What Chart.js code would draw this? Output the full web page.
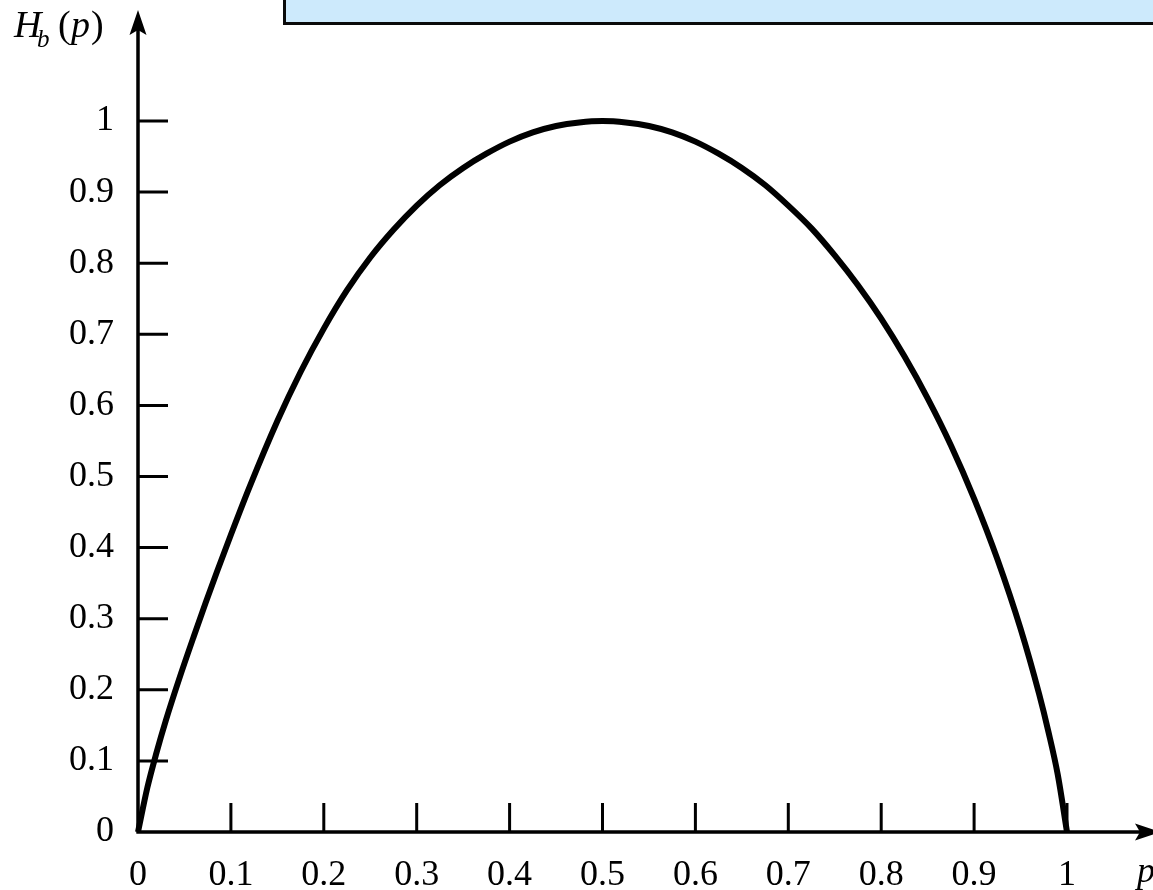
<!doctype html>
<html lang="en">
<head>
  <meta charset="utf-8">
  <title>Binary entropy</title>
  <script src="https://cdn.jsdelivr.net/npm/chart.js"></script>
  <style>
    html, body { margin: 0; padding: 0; background: #fff; }
    #wrap { width: 1153px; height: 890px; }
  </style>
</head>
<body>
<div id="wrap"><canvas id="hb-chart" width="1153" height="890"></canvas></div>

<script>
// values
var pValues  = [0, 0.01, 0.02, 0.03, 0.044, 0.06, 0.073, 0.085, 0.1, 0.12, 0.15, 0.175, 0.2, 0.225,
                0.25, 0.275, 0.3, 0.325, 0.35, 0.375, 0.4, 0.425, 0.45, 0.475, 0.5,
                0.525, 0.55, 0.575, 0.6, 0.625, 0.65, 0.675, 0.7, 0.725, 0.75, 0.775, 0.8,
                0.825, 0.85, 0.875, 0.9, 0.925, 0.95, 0.97, 0.98, 0.99, 1];
var hbValues = [0, 0.062, 0.112, 0.157, 0.214, 0.275, 0.323, 0.366, 0.418, 0.485, 0.578, 0.647, 0.708, 0.762,
                0.808, 0.847, 0.881, 0.91, 0.934, 0.954, 0.971, 0.984, 0.993, 0.998, 1.0,
                0.998, 0.993, 0.984, 0.971, 0.954, 0.934, 0.91, 0.881, 0.849, 0.811, 0.769, 0.722,
                0.669, 0.61, 0.544, 0.469, 0.384, 0.286, 0.194, 0.141, 0.081, 0];
var xTicks = [0, 0.1, 0.2, 0.3, 0.4, 0.5, 0.6, 0.7, 0.8, 0.9, 1];
var yTicks = [0, 0.1, 0.2, 0.3, 0.4, 0.5, 0.6, 0.7, 0.8, 0.9, 1];

var points = [];
for (var i = 0; i < pValues.length; i++) {
  points.push({ x: pValues[i], y: hbValues[i] });
}

var serif = "'Liberation Serif', 'DejaVu Serif', serif";

// axes with arrows, inward ticks, titles and the cut-off box on top
var axisDecor = {
  id: 'axisDecor',
  afterDraw: function(chart) {
    var ctx = chart.ctx;
    var xs = chart.scales.x, ys = chart.scales.y;
    var x0 = xs.getPixelForValue(0), y0 = ys.getPixelForValue(0);
    ctx.save();

    // blue box cut off at the top
    ctx.fillStyle = '#cdeafc';
    ctx.fillRect(283, -5, 900, 28);
    ctx.strokeStyle = '#0a0a0a';
    ctx.lineWidth = 3;
    ctx.strokeRect(284.5, -5, 900, 28.5);

    ctx.strokeStyle = '#000';
    ctx.fillStyle = '#000';
    ctx.lineWidth = 3.5;
    ctx.lineCap = 'butt';
    ctx.beginPath();
    ctx.moveTo(x0, y0 + 1.5);
    ctx.lineTo(x0, 28);
    ctx.moveTo(x0 - 1.5, y0);
    ctx.lineTo(1140, y0);
    ctx.stroke();

    // arrow heads
    ctx.beginPath();
    ctx.moveTo(x0, 10);
    ctx.lineTo(x0 - 8.5, 35);
    ctx.lineTo(x0, 30);
    ctx.lineTo(x0 + 8.5, 35);
    ctx.closePath();
    ctx.fill();
    ctx.beginPath();
    ctx.moveTo(1160, y0);
    ctx.lineTo(1135, y0 - 8.5);
    ctx.lineTo(1140, y0);
    ctx.lineTo(1135, y0 + 8.5);
    ctx.closePath();
    ctx.fill();

    // inward ticks
    ctx.lineWidth = 3;
    ctx.beginPath();
    yTicks.forEach(function(v) {
      if (v === 0) return;
      var y = ys.getPixelForValue(v);
      ctx.moveTo(x0, y);
      ctx.lineTo(x0 + 30, y);
    });
    xTicks.forEach(function(v) {
      if (v === 0) return;
      var x = xs.getPixelForValue(v);
      ctx.moveTo(x, y0);
      ctx.lineTo(x, y0 - 29);
    });
    ctx.stroke();

    // axis titles
    ctx.textBaseline = 'alphabetic';
    ctx.textAlign = 'left';
    ctx.font = 'italic 38px ' + serif;
    ctx.fillText('H', 14, 37);
    ctx.font = 'italic 25px ' + serif;
    ctx.fillText('b', 37, 47);
    ctx.font = '38px ' + serif;
    ctx.fillText('(', 58, 37);
    ctx.font = 'italic 38px ' + serif;
    ctx.fillText('p', 71, 37);
    ctx.font = '38px ' + serif;
    ctx.fillText(')', 91, 37);

    ctx.font = 'italic 36px ' + serif;
    ctx.fillText('p', 1137, 882);
    ctx.restore();
  }
};

new Chart(document.getElementById('hb-chart'), {
  type: 'line',
  data: {
    datasets: [{
      data: points,
      borderColor: '#000',
      borderWidth: 6,
      pointRadius: 0,
      fill: false,
      cubicInterpolationMode: 'monotone',
      clip: false
    }]
  },
  options: {
    responsive: false,
    animation: false,
    layout: { padding: { top: 121, right: 86, left: 0, bottom: 0 } },
    plugins: { legend: { display: false }, tooltip: { enabled: false } },
    scales: {
      x: {
        type: 'linear',
        min: 0,
        max: 1,
        afterFit: function(scale) { scale.height = 58; },
        afterBuildTicks: function(scale) {
          scale.ticks = xTicks.map(function(v) { return { value: v }; });
        },
        grid: { display: false },
        border: { display: false },
        ticks: {
          color: '#000',
          padding: 14,
          maxRotation: 0,
          autoSkip: false,
          font: { family: serif, size: 36 },
          callback: function(v) { return String(v); }
        }
      },
      y: {
        type: 'linear',
        min: 0,
        max: 1,
        afterFit: function(scale) { scale.width = 138; },
        afterBuildTicks: function(scale) {
          scale.ticks = yTicks.map(function(v) { return { value: v }; });
        },
        grid: { display: false },
        border: { display: false },
        ticks: {
          color: '#000',
          padding: 16,
          autoSkip: false,
          font: { family: serif, size: 36 },
          callback: function(v) { return String(v); }
        }
      }
    }
  },
  plugins: [axisDecor]
});
</script>
</body>
</html>
